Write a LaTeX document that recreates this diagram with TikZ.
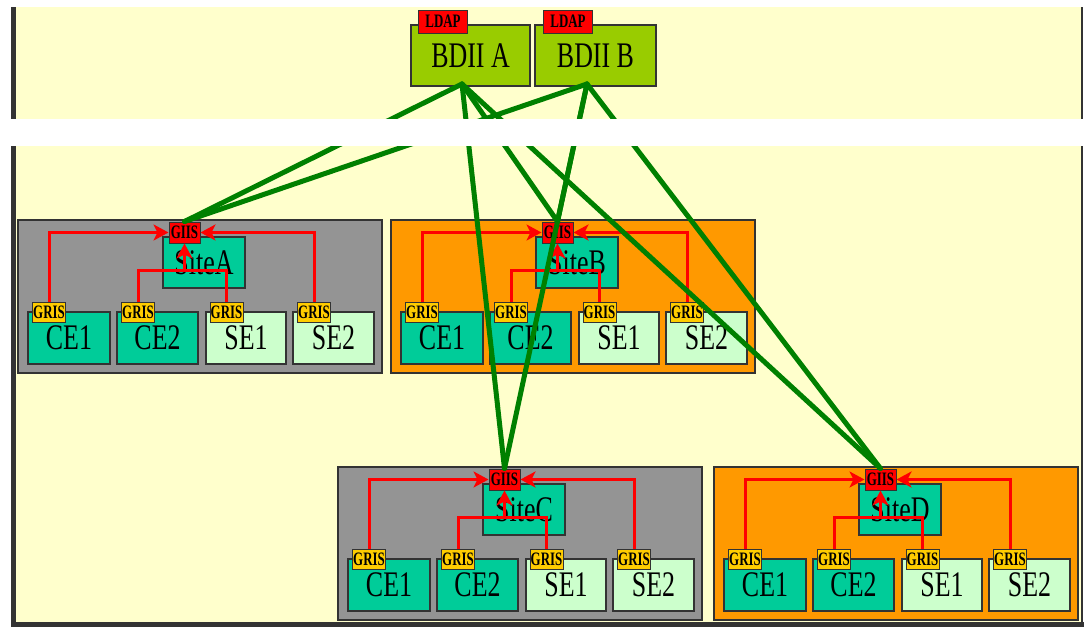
\documentclass[tikz,border=0pt]{standalone}
\usepackage{fontspec}
\usepackage{graphicx}
\setmainfont{Liberation Serif}
\usetikzlibrary{arrows.meta}
\definecolor{bgyel}{HTML}{FFFFCC}
\definecolor{framec}{HTML}{333333}
\definecolor{sgray}{HTML}{949494}
\definecolor{sorange}{HTML}{FF9900}
\definecolor{ceteal}{HTML}{00CC99}
\definecolor{selight}{HTML}{CCFFCC}
\definecolor{bdiigreen}{HTML}{99CC00}
\definecolor{tagred}{HTML}{FF0000}
\definecolor{gristag}{HTML}{FFCC00}
\definecolor{linkgreen}{HTML}{008000}
\newcommand\bigtxt[1]{\scalebox{0.72}[1]{\fontsize{36}{36}\selectfont #1}}
\newcommand\tagtxt[1]{\scalebox{0.68}[1]{\fontsize{19}{19}\selectfont\bfseries #1}}
\tikzset{
  boxbase/.style={draw=framec, line width=1.4pt, inner sep=0pt, anchor=center},
  containerbox/.style={boxbase, minimum width=364pt, minimum height=153pt},
  sitebox/.style={boxbase, fill=ceteal, minimum width=82pt, minimum height=51pt},
  cebox/.style={boxbase, fill=ceteal, minimum height=52pt},
  sebox/.style={boxbase, fill=selight, minimum height=52pt},
  gristagbox/.style={boxbase, line width=1pt, fill=gristag, minimum width=33pt, minimum height=20pt},
  giistagbox/.style={boxbase, line width=1pt, fill=tagred, minimum width=31pt, minimum height=21pt},
  ldaptagbox/.style={boxbase, line width=1pt, fill=tagred, minimum width=49pt, minimum height=23pt},
  bdiibox/.style={boxbase, fill=bdiigreen, minimum height=61pt},
  redline/.style={draw=tagred, line width=3pt},
  redarrow/.style={redline, -{Stealth[length=15pt,width=16pt,inset=4pt]}},
  linkline/.style={draw=linkgreen, line width=5pt, line cap=round},
}
\newcommand\drawsite[5]{%
  \begin{scope}[shift={(#2,#3)}]
    \node[containerbox, fill=#4] (#1) at (200,296.5) {};
    \node[sitebox] (#1-s) at (204,262.5) {\bigtxt{#5}};
    \node[cebox, minimum width=82pt] (#1-ce1) at (69,338) {\bigtxt{CE1}};
    \node[cebox, minimum width=81pt] (#1-ce2) at (157.5,338) {\bigtxt{CE2}};
    \node[sebox, minimum width=80pt] (#1-se1) at (246,338) {\bigtxt{SE1}};
    \node[sebox, minimum width=81pt] (#1-se2) at (333.5,338) {\bigtxt{SE2}};
    \node[gristagbox] (#1-g1) at (49,312) {\tagtxt{GRIS}};
    \node[gristagbox] (#1-g2) at (138,312) {\tagtxt{GRIS}};
    \node[gristagbox] (#1-g3) at (226.5,312) {\tagtxt{GRIS}};
    \node[gristagbox] (#1-g4) at (314,312) {\tagtxt{GRIS}};
    \node[giistagbox] (#1-giis) at (184.5,232.5) {\tagtxt{GIIS}};
    \coordinate (#1-j) at (184.5,270);
    \draw[redarrow] (#1-g1.north) |- (#1-giis.west);
    \draw[redarrow] (#1-g4.north) |- (#1-giis.east);
    \draw[redline] (#1-g2.north) |- (#1-j) -| (#1-g3.north);
    \draw[redarrow] (#1-j) -- (#1-giis.south);
  \end{scope}
}
\begin{document}
\begin{tikzpicture}[x=1pt, y=-1pt]
  \useasboundingbox (0,0) rectangle (1084,627);
  \fill[white] (0,0) rectangle (1084,627);
  \fill[bgyel] (16,7) rectangle (1081,622);
  \fill[framec] (11,7) rectangle (16,622);
  \fill[framec] (1081,7) rectangle (1083,622);
  \fill[framec] (11,622) rectangle (1084,627);

  % BDII servers
  \node[bdiibox, minimum width=119pt] (bdiiA) at (470.5,55.5) {\bigtxt{BDII A}};
  \node[bdiibox, minimum width=121pt] (bdiiB) at (595.5,55.5) {\bigtxt{BDII B}};
  \node[ldaptagbox] (ldapA) at (443,21.5) {\tagtxt{LDAP}};
  \node[ldaptagbox] (ldapB) at (568,21.5) {\tagtxt{LDAP}};

  % sites
  \drawsite{siteA}{0}{0}{sgray}{SiteA}
  \drawsite{siteB}{373}{0}{sorange}{SiteB}
  \drawsite{siteC}{320}{247}{sgray}{SiteC}
  \drawsite{siteD}{696}{247}{sorange}{SiteD}

  % links from BDII to site GIIS
  \coordinate (apexA) at (462,84);
  \coordinate (apexB) at (587,84);
  \foreach \s in {siteA,siteB,siteC,siteD}{
    \draw[linkline] (apexA) -- (\s-giis.north);
    \draw[linkline] (apexB) -- (\s-giis.north);
  }

  % white band across the picture
  \fill[white] (0,119) rectangle (1084,146);
\end{tikzpicture}
\end{document}
